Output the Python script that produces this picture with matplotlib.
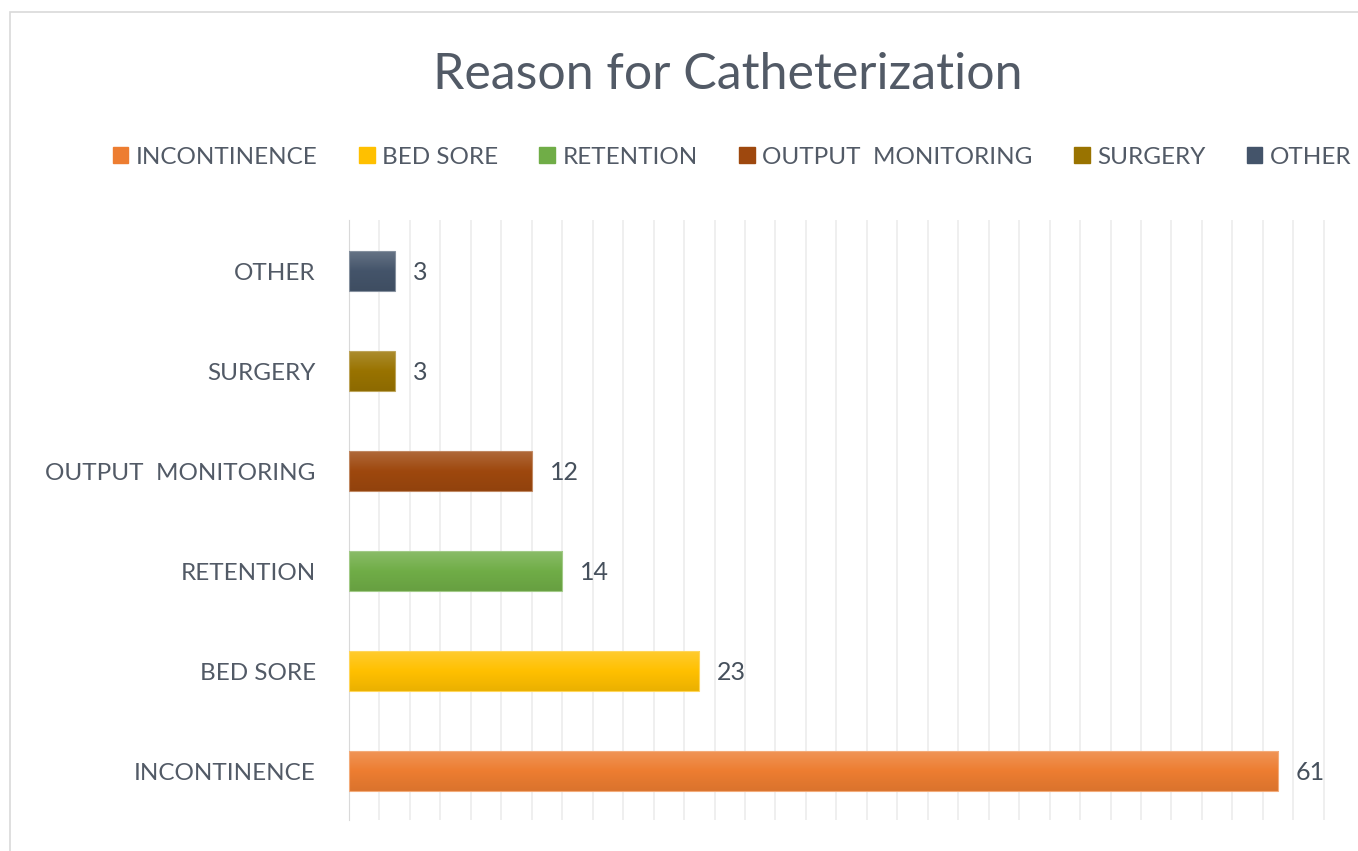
import numpy as np
import matplotlib.pyplot as plt
from matplotlib.colors import LinearSegmentedColormap, to_rgb
from matplotlib.patches import Rectangle

# data
reasons = ['INCONTINENCE', 'BED SORE', 'RETENTION', 'OUTPUT  MONITORING', 'SURGERY', 'OTHER']
counts = [61, 23, 14, 12, 3, 3]
colors = ['#ED7D31', '#FFC000', '#70AD47', '#9E480E', '#997300', '#44546A']

plt.rcParams['font.family'] = ['Lato', 'DejaVu Sans']
txt = '#525a66'

fig = plt.figure(figsize=(13.58, 8.51), dpi=100)
fig.patches.append(Rectangle((10 / 1358, -0.1), 1.2, 1 - 12 / 851 + 0.1, transform=fig.transFigure,
                             fill=False, edgecolor='#d9d9d9', linewidth=1.2))

ax = fig.add_axes([349 / 1358, 31 / 851, 1 - 349 / 1358, (820 - 220) / 851])
y = np.arange(len(reasons))
bars = ax.barh(y, counts, height=0.4, color=colors, zorder=3)


def shade(c, f):
    r = np.array(to_rgb(c))
    if f > 0:
        return tuple(r + (1 - r) * f)
    return tuple(r * (1 + f))


# gradient fill, lighter on top
for b, c in zip(bars, colors):
    x0, y0 = b.get_x(), b.get_y()
    w, h = b.get_width(), b.get_height()
    cmap = LinearSegmentedColormap.from_list('g', [shade(c, -0.08), c, shade(c, 0.18)])
    grad = np.linspace(0, 1, 100).reshape(-1, 1)
    ax.imshow(grad, cmap=cmap, aspect='auto', origin='lower',
              extent=(x0, x0 + w, y0, y0 + h), zorder=4)
    ax.add_patch(Rectangle((x0, y0), w, h, fill=False, edgecolor=shade(c, 0.35), linewidth=0.8, zorder=5))

for yi, v in zip(y, counts):
    ax.annotate(str(v), (v, yi), xytext=(13, -1), textcoords='offset points',
                va='center', ha='left', fontsize=18, color='#46505c')

ax.set_xlim(0, 66.25)
ax.set_ylim(-0.49, 5.51)
ax.set_xticks(np.arange(0, 65, 2))
ax.set_xticklabels([])
ax.set_yticks(y)
ax.set_yticklabels(reasons, fontsize=17.5, color=txt)
ax.tick_params(axis='both', length=0)
ax.tick_params(axis='y', pad=24)
ax.grid(axis='x', color='#ececec', linewidth=1.2, zorder=0)
for s in ['top', 'right', 'bottom']:
    ax.spines[s].set_visible(False)
ax.spines['left'].set_color('#d9d9d9')

fig.text(0.536, 1 - 75 / 851, 'Reason for Catheterization', ha='center', va='center',
         fontsize=36, color=txt)

handles = [Rectangle((0, 0), 1, 1, color=c) for c in colors]
fig.legend(handles, reasons, loc='center', bbox_to_anchor=(0.539, 1 - 157 / 851), ncol=6,
           frameon=False, fontsize=17.5, labelcolor=txt, handlelength=0.65, handleheight=0.65,
           handletextpad=0.3, columnspacing=1.7)

fig.savefig('out.png', dpi=100)
